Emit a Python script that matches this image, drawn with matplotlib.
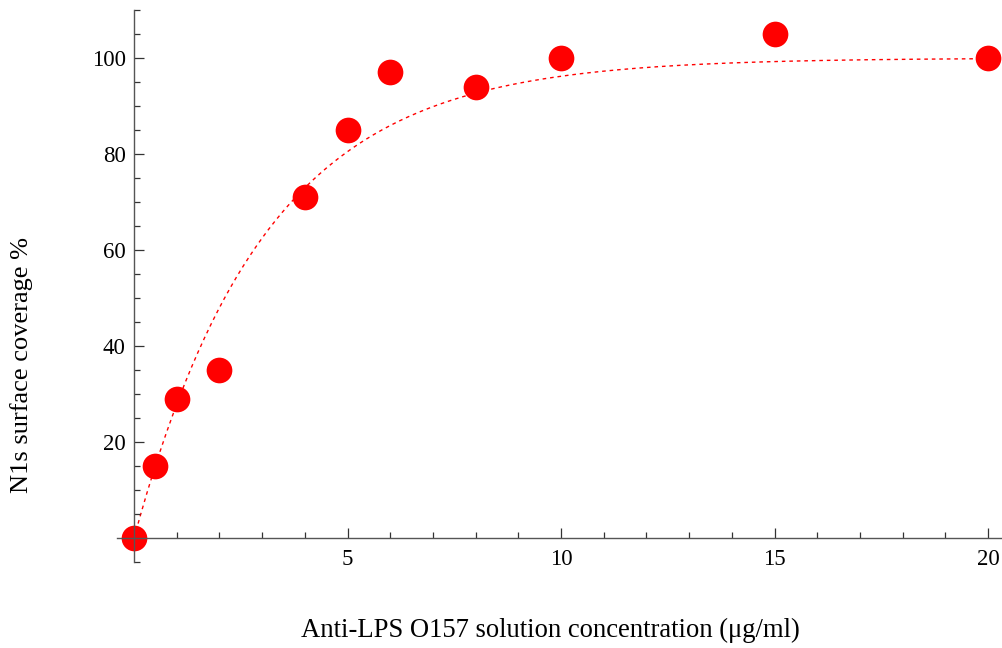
import numpy as np
import matplotlib
matplotlib.use("Agg")
import matplotlib.pyplot as plt
from matplotlib.ticker import MultipleLocator, FixedLocator

plt.rcParams['font.family'] = ['Liberation Serif', 'DejaVu Serif']

# measured points
conc = [0, 0.5, 1, 2, 4, 5, 6, 8, 10, 15, 20]
coverage = [0, 15, 29, 35, 71, 85, 97, 94, 100, 105, 100]

# saturation fit y = A * (1 - exp(-k x)), parameters
fit_A = 100.0
fit_k = 0.327

xlabel = "Anti-LPS O157 solution concentration (\u03bcg/ml)"
ylabel = "N1s surface coverage %"

W, H = 1003, 648
fig = plt.figure(figsize=(W / 100, H / 100), dpi=100)
ax = fig.add_axes([117 / W, 1 - 562 / H, (1003 - 117) / W, (562 - 10) / H])
ax.set_xlim(-0.4, 20.35)
ax.set_ylim(-5, 110)

xs = np.linspace(0, 20, 400)
ax.plot(xs, fit_A * (1 - np.exp(-fit_k * xs)), color='red', lw=1.0,
        dashes=(2.6, 2.8), zorder=1.5)
ax.plot(conc, coverage, 'o', color='#ff0000', ms=18.5, mec='none',
        zorder=2.2, clip_on=False)

for s in ('top', 'right'):
    ax.spines[s].set_visible(False)
ax.spines['left'].set_position(('data', 0))
ax.spines['bottom'].set_position(('data', 0))
for s in ('left', 'bottom'):
    ax.spines[s].set_color('#555555')
    ax.spines[s].set_linewidth(1.0)

ax.xaxis.set_major_locator(FixedLocator([5, 10, 15, 20]))
ax.xaxis.set_minor_locator(MultipleLocator(1))
ax.yaxis.set_major_locator(FixedLocator([20, 40, 60, 80, 100]))
ax.yaxis.set_minor_locator(MultipleLocator(5))
ax.tick_params(which='both', direction='in', color='#333333', width=0.9,
               labelsize=16.5)
ax.tick_params(which='major', length=7.5)
ax.tick_params(which='minor', length=4.5)
ax.tick_params(axis='x', which='major', pad=8)
ax.tick_params(axis='y', which='major', pad=6)

fig.text(550 / W, 1 - 630 / H, xlabel, ha='center', va='center', fontsize=19.2)
fig.text(22 / W, 1 - 365 / H, ylabel, ha='center', va='center', fontsize=19,
         rotation=90)

fig.savefig("out.png", dpi=100)
